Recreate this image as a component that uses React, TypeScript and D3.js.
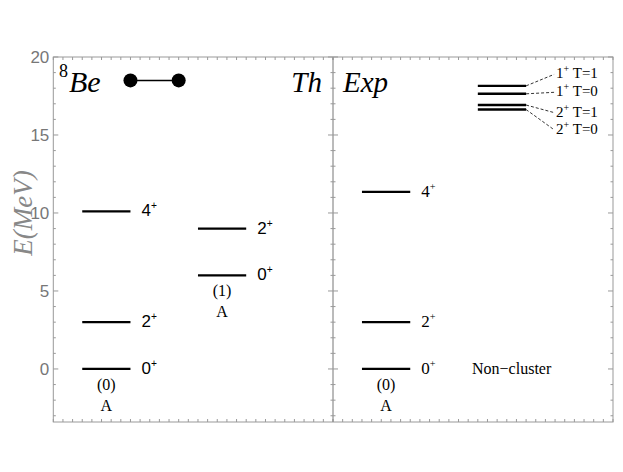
import React from "react";
import { scaleLinear, range } from "d3";

// energies in MeV
const thBand0 = [0, 3.0, 10.1];
const thBand0Spins = ["0", "2", "4"];
const thBand1 = [6.0, 9.0];
const thBand1Spins = ["0", "2"];
const expBand0 = [0, 3.0, 11.35];
const expBand0Spins = ["0", "2", "4"];
const expHigh = [18.15, 17.64, 16.92, 16.63];
const expHighSpins = ["1", "1", "2", "2"];
const expHighIso = ["T=1", "T=0", "T=1", "T=0"];
const expHighLabelE = [18.95, 17.8, 16.5, 15.4];
const yTicks = [0, 5, 10, 15, 20];

const W = 623;
const H = 472;
const top = 57;
const bottom = 422;
const left = 53.3;
const mid = 333;
const right = 613;

const y = scaleLinear().domain([-3.4, 20]).range([bottom, top]);
const xL = scaleLinear().domain([0, 2.9]).range([left, mid]);
const xR = scaleLinear().domain([0, 2.9]).range([mid, right]);

const sans = "'Liberation Sans', Arial, sans-serif";
const serif = "'Liberation Serif', 'Times New Roman', serif";

function Level({ x, x0, x1, e, spin, font, fs }: any) {
  return (
    <g>
      <line x1={x(x0)} x2={x(x1)} y1={y(e)} y2={y(e)} stroke="#000" strokeWidth={2.2} />
      <text x={x(x1) + 11} y={y(e) + 5} fontFamily={font} fontSize={fs} fill="#000">
        {spin}
        <tspan dy={-7} fontSize={fs * 0.6}>+</tspan>
      </text>
    </g>
  );
}

function BandLabel({ x, xc, e, n }: any) {
  return (
    <g fontFamily={serif} fontSize={16} textAnchor="middle" fill="#000">
      <text x={x(xc)} y={y(e) + 21}>({n})</text>
      <text x={x(xc)} y={y(e) + 42}>A</text>
    </g>
  );
}

export default function App() {
  const xTicks = range(0, 29.01, 1).map((d) => d / 10);
  const yMinor = range(-3, 21, 1);
  const axisCol = "#999";
  return (
    <svg width={W} height={H} style={{ display: "block", position: "absolute", left: 0, top: 0 }}>
      <rect width={W} height={H} fill="#fff" />
      {/* frames */}
      <rect x={left} y={top} width={right - left} height={bottom - top} fill="none" stroke={axisCol} strokeWidth={1} />
      <line x1={mid} x2={mid} y1={top} y2={bottom} stroke="#777" strokeWidth={1} />
      {/* x minor ticks */}
      {[xL, xR].map((x, i) =>
        xTicks.map((t) => (
          <g key={`${i}-${t}`} stroke={axisCol}>
            <line x1={x(t)} x2={x(t)} y1={bottom} y2={bottom - 3} />
            <line x1={x(t)} x2={x(t)} y1={top} y2={top + 3} />
          </g>
        ))
      )}
      {/* y ticks */}
      {yMinor.map((t) => {
        const len = t % 5 === 0 ? 5 : 2.5;
        return (
          <g key={t} stroke={axisCol}>
            <line x1={left} x2={left + len} y1={y(t)} y2={y(t)} />
            <line x1={right} x2={right - len} y1={y(t)} y2={y(t)} />
            <line x1={mid} x2={mid - len} y1={y(t)} y2={y(t)} />
            <line x1={mid} x2={mid + len} y1={y(t)} y2={y(t)} />
          </g>
        );
      })}
      {yTicks.map((t) => (
        <text key={t} x={left - 4} y={y(t) + 6} textAnchor="end" fontFamily={sans} fontSize={17} fill="#777">
          {t}
        </text>
      ))}
      <text
        transform={`translate(32,${y(10)}) rotate(-90)`}
        textAnchor="middle"
        fontFamily={serif}
        fontStyle="italic"
        fontSize={27}
        fill="#888"
      >
        E(MeV)
      </text>

      {/* panel titles */}
      <text x={59} y={92} fontFamily={serif} fill="#000">
        <tspan fontSize={18} dy={-15}>8</tspan>
        <tspan fontSize={30} fontStyle="italic" dy={15} dx={1}>Be</tspan>
      </text>
      <text x={mid - 11} y={92} textAnchor="end" fontFamily={serif} fontStyle="italic" fontSize={29} fill="#000">
        Th
      </text>
      <text x={mid + 10} y={92} fontFamily={serif} fontStyle="italic" fontSize={29} fill="#000">
        Exp
      </text>

      {/* dumbbell */}
      <line x1={xL(0.8)} x2={xL(1.3)} y1={y(18.5)} y2={y(18.5)} stroke="#000" strokeWidth={1.5} />
      <circle cx={xL(0.8)} cy={y(18.5)} r={7} fill="#000" />
      <circle cx={xL(1.3)} cy={y(18.5)} r={7} fill="#000" />

      {/* Th levels */}
      {thBand0.map((e, i) => (
        <Level key={`t0${i}`} x={xL} x0={0.3} x1={0.8} e={e} spin={thBand0Spins[i]} font={sans} fs={17} />
      ))}
      <BandLabel x={xL} xc={0.55} e={thBand0[0]} n={0} />
      {thBand1.map((e, i) => (
        <Level key={`t1${i}`} x={xL} x0={1.5} x1={2.0} e={e} spin={thBand1Spins[i]} font={sans} fs={17} />
      ))}
      <BandLabel x={xL} xc={1.75} e={thBand1[0]} n={1} />

      {/* Exp levels */}
      {expBand0.map((e, i) => (
        <Level key={`e0${i}`} x={xR} x0={0.3} x1={0.8} e={e} spin={expBand0Spins[i]} font={serif} fs={17} />
      ))}
      <BandLabel x={xR} xc={0.55} e={expBand0[0]} n={0} />
      <text x={xR(1.44)} y={y(0) + 5} fontFamily={serif} fontSize={16} fill="#000">
        Non−cluster
      </text>

      {expHigh.map((e, i) => (
        <g key={`h${i}`}>
          <line x1={xR(1.5)} x2={xR(2.0)} y1={y(e)} y2={y(e)} stroke="#000" strokeWidth={2.4} />
          <line
            x1={xR(2.0)}
            x2={xR(2.0) + 28}
            y1={y(e)}
            y2={y(expHighLabelE[i]) + 1}
            stroke="#000"
            strokeWidth={0.8}
            strokeDasharray="3,2"
          />
          <text x={xR(2.0) + 30} y={y(expHighLabelE[i]) + 5} fontFamily={serif} fontSize={15} fill="#000">
            {expHighSpins[i]}
            <tspan dy={-6} fontSize={10}>+</tspan>
            <tspan dy={6}> {expHighIso[i]}</tspan>
          </text>
        </g>
      ))}
    </svg>
  );
}
